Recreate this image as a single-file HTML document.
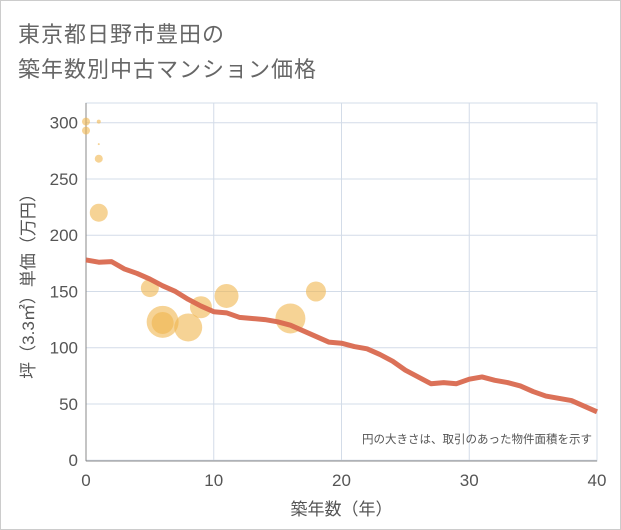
<!DOCTYPE html>
<html><head><meta charset="utf-8"><style>
body{margin:0;background:#fff;}
#wrap{position:relative;width:621px;height:530px;box-sizing:border-box;border:1px solid #ccc;background:#fff;font-family:"Liberation Sans","Noto Sans CJK JP",sans-serif;}
.t{position:absolute;left:17px;font-size:22px;color:#666;letter-spacing:1px;}
</style></head><body>
<div id="wrap">
<div class="t" style="top:16px">東京都日野市豊田の</div>
<div class="t" style="top:51px">築年数別中古マンション価格</div>
<svg id="c" width="621" height="530" style="position:absolute;left:-1px;top:-1px"></svg>
</div>
<script>
const lineX=[0,1,2,3,4,5,6,7,8,9,10,11,12,13,14,15,16,17,18,19,20,21,22,23,24,25,26,27,28,29,30,31,32,33,34,35,36,37,38,39,40];
const lineY=[178,176,176.5,170,166,161,155,150,143,137,132,131,127,126,125,123,120,115,110,105,104,101,99,94,88,80,74,68,69,68,72,74,71,69,66,61,57,55,53,48,43];
const bubX=[0,0,1,1,1,1,5,6,6,8,9,11,16,18];
const bubY=[301,293,301,281,268,220,153,123,122,118,136,146,126,150];
const bubR=[4,4,2,1,4,9,9,16,11,14,11,12,15,10];
const xTicks=[0,10,20,30,40];
const yTicks=[0,50,100,150,200,250,300];
const NS='http://www.w3.org/2000/svg';
const svg=document.getElementById('c');
const L=86,R=597,T=103,B=461;
const xs=v=>L+(v/40)*(R-L);
const ys=v=>460.2-v*1.125;
function mk(tag,attrs,parent){const e=document.createElementNS(NS,tag);for(const k in attrs)e.setAttribute(k,attrs[k]);(parent||svg).appendChild(e);return e;}
yTicks.forEach(v=>{const g=mk('line',{x1:L,x2:R,y1:ys(v),y2:ys(v),stroke:'#d3dce8','stroke-width':1});


const t=mk('text',{x:L-8,y:ys(v)+6,'text-anchor':'end','font-size':17,fill:'#555','font-family':'Liberation Sans,sans-serif'});t.textContent=v;

});
xTicks.forEach(v=>{const g=mk('line',{x1:xs(v),x2:xs(v),y1:T,y2:B,stroke:'#d3dce8','stroke-width':1});


const t=mk('text',{x:xs(v),y:B+25,'text-anchor':'middle','font-size':17,fill:'#555','font-family':'Liberation Sans,sans-serif'});t.textContent=v;

});
const fr=mk('rect',{x:L,y:T,width:R-L,height:B-T,fill:'none',stroke:'#d3dce8'});


const ax=mk('line',{x1:L,x2:L,y1:T,y2:B,stroke:'#888'});


const ax2=mk('line',{x1:L,x2:R,y1:B,y2:B,stroke:'#888'});


bubX.forEach((x,i)=>{const c=mk('circle',{cx:xs(x),cy:ys(bubY[i]),r:bubR[i],fill:'#f0b54e','fill-opacity':0.6});

});
const p=mk('polyline',{points:lineX.map((x,i)=>xs(x)+','+ys(lineY[i])).join(' '),fill:'none',stroke:'#d9694f','stroke-width':5,'stroke-linejoin':'round','stroke-opacity':0.95});


const n=mk('text',{x:592,y:443,'text-anchor':'end','font-size':11.5,fill:'#555','font-family':'Liberation Sans,Noto Sans CJK JP,sans-serif'});n.textContent='円の大きさは、取引のあった物件面積を示す';


const xt=mk('text',{x:(L+R)/2,y:515,'text-anchor':'middle','font-size':17,fill:'#555','font-family':'Liberation Sans,Noto Sans CJK JP,sans-serif'});xt.textContent='築年数（年）';


const yt=mk('text',{x:0,y:0,'text-anchor':'middle','font-size':17,fill:'#555','font-family':'Liberation Sans,Noto Sans CJK JP,sans-serif',transform:'translate(34,'+((T+B)/2)+') rotate(-90)'});yt.textContent='坪（3.3㎡）単価（万円）';


</script>
</body></html>
